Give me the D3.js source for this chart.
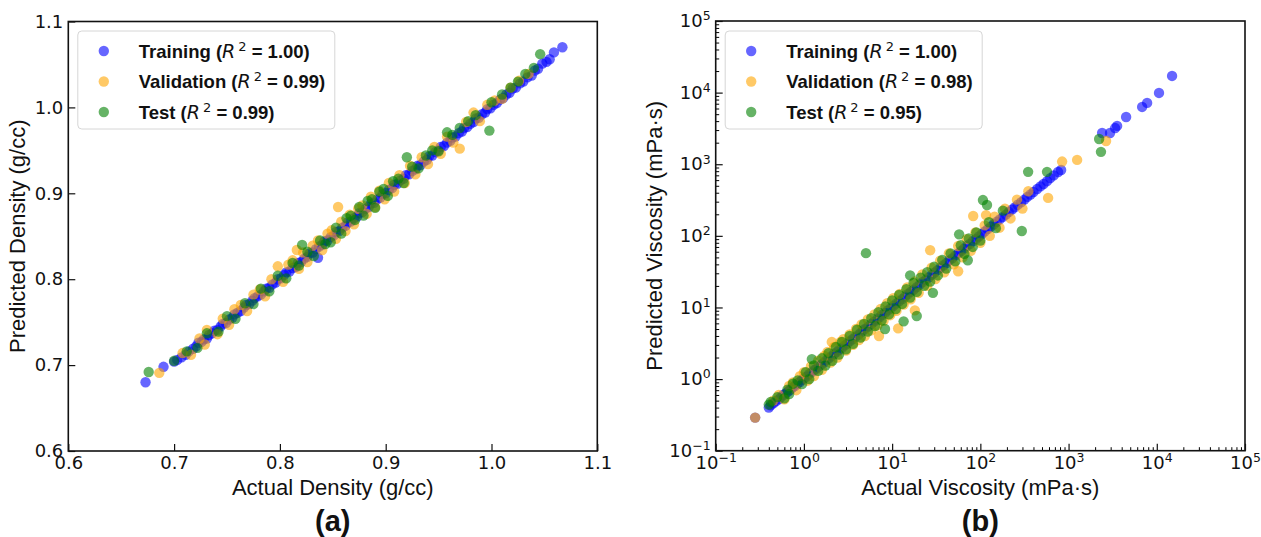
<!DOCTYPE html>
<html>
<head>
<meta charset="utf-8">
<script src="https://cdn.jsdelivr.net/npm/d3@7"></script>
<style>
  body { margin: 0; background: #fff; }
</style>
</head>
<body>
<div id="vis"></div>
<script>
// ---------------------------------- DATOS ----------------------------------
// [actual, predicho]
const trainDensity = [
  [0.673,0.680],[0.690,0.698],[0.700,0.704],[0.703,0.706],[0.707,0.709],[0.711,0.712],[0.714,0.716],[0.718,0.719],
  [0.721,0.722],[0.723,0.726],[0.726,0.727],[0.728,0.730],[0.731,0.731],[0.733,0.735],[0.736,0.737],[0.738,0.740],
  [0.741,0.741],[0.744,0.745],[0.746,0.748],[0.749,0.749],[0.752,0.753],[0.755,0.755],[0.757,0.759],[0.760,0.761],
  [0.763,0.763],[0.766,0.767],[0.768,0.770],[0.771,0.771],[0.774,0.775],[0.776,0.778],[0.779,0.780],[0.782,0.782],
  [0.785,0.786],[0.787,0.789],[0.790,0.790],[0.793,0.794],[0.796,0.796],[0.798,0.800],[0.801,0.801],[0.804,0.805],
  [0.806,0.808],[0.809,0.809],[0.812,0.813],[0.815,0.814],[0.817,0.819],[0.820,0.820],[0.823,0.824],[0.826,0.826],
  [0.828,0.830],[0.831,0.831],[0.834,0.835],[0.836,0.825],[0.837,0.838],[0.840,0.840],[0.842,0.844],[0.845,0.845],
  [0.848,0.849],[0.851,0.851],[0.853,0.855],[0.856,0.856],[0.859,0.860],[0.862,0.862],[0.864,0.866],[0.867,0.867],
  [0.870,0.871],[0.873,0.873],[0.875,0.877],[0.878,0.878],[0.881,0.882],[0.884,0.884],[0.886,0.888],[0.889,0.889],
  [0.892,0.893],[0.895,0.895],[0.897,0.899],[0.900,0.900],[0.903,0.904],[0.906,0.906],[0.908,0.910],[0.911,0.911],
  [0.914,0.915],[0.917,0.917],[0.919,0.921],[0.922,0.922],[0.925,0.926],[0.928,0.928],[0.930,0.932],[0.933,0.933],
  [0.936,0.937],[0.939,0.939],[0.941,0.943],[0.944,0.944],[0.947,0.948],[0.950,0.950],[0.952,0.954],[0.955,0.955],
  [0.958,0.959],[0.961,0.961],[0.963,0.965],[0.966,0.966],[0.969,0.970],[0.972,0.972],[0.974,0.976],[0.977,0.977],
  [0.980,0.981],[0.983,0.983],[0.985,0.987],[0.988,0.988],[0.991,0.992],[0.994,0.994],[0.996,0.998],[0.999,0.999],
  [1.002,1.003],[1.005,1.005],[1.008,1.009],[1.011,1.011],[1.014,1.015],[1.017,1.017],[1.020,1.022],[1.023,1.023],
  [1.027,1.028],[1.030,1.030],[1.034,1.035],[1.038,1.037],[1.041,1.043],[1.044,1.045],[1.048,1.051],[1.052,1.053],
  [1.055,1.056],[1.059,1.064],[1.067,1.070]
];
const valDensity = [
  [0.686,0.691],[0.708,0.714],[0.716,0.712],[0.724,0.731],[0.729,0.724],[0.731,0.741],[0.741,0.736],[0.746,0.754],
  [0.752,0.747],[0.757,0.765],[0.763,0.770],[0.769,0.763],[0.775,0.782],[0.781,0.788],[0.786,0.780],[0.792,0.800],
  [0.798,0.815],[0.803,0.797],[0.808,0.817],[0.812,0.822],[0.816,0.834],[0.818,0.812],[0.822,0.831],[0.826,0.820],
  [0.831,0.839],[0.836,0.845],[0.840,0.834],[0.845,0.853],[0.849,0.857],[0.853,0.847],[0.855,0.884],[0.858,0.867],
  [0.862,0.856],[0.866,0.875],[0.870,0.864],[0.874,0.882],[0.878,0.886],[0.882,0.876],[0.886,0.896],[0.890,0.884],
  [0.894,0.903],[0.899,0.893],[0.903,0.912],[0.908,0.902],[0.913,0.921],[0.918,0.912],[0.923,0.932],[0.928,0.922],
  [0.934,0.942],[0.940,0.934],[0.946,0.954],[0.952,0.946],[0.958,0.966],[0.964,0.959],[0.970,0.952],[0.976,0.983],
  [0.983,0.994],[0.989,0.984],[0.996,1.003],[1.003,1.008],[1.010,1.010],[1.018,1.023],[1.026,1.031],[1.035,1.039]
];
const testDensity = [
  [0.676,0.692],[0.700,0.705],[0.712,0.716],[0.722,0.720],[0.731,0.737],[0.742,0.739],[0.750,0.757],[0.758,0.754],
  [0.767,0.772],[0.775,0.771],[0.782,0.789],[0.790,0.786],[0.798,0.804],[0.806,0.801],[0.812,0.819],[0.818,0.816],
  [0.821,0.840],[0.826,0.832],[0.832,0.827],[0.838,0.845],[0.843,0.841],[0.848,0.843],[0.853,0.860],[0.858,0.853],
  [0.863,0.871],[0.867,0.874],[0.871,0.869],[0.875,0.884],[0.879,0.874],[0.883,0.891],[0.887,0.893],[0.890,0.883],
  [0.894,0.902],[0.898,0.905],[0.902,0.897],[0.907,0.914],[0.912,0.917],[0.917,0.912],[0.920,0.942],[0.925,0.931],
  [0.931,0.929],[0.938,0.944],[0.944,0.950],[0.950,0.949],[0.958,0.971],[0.963,0.968],[0.970,0.976],[0.978,0.984],
  [0.985,0.991],[0.998,0.973],[1.000,1.006],[1.010,1.015],[1.018,1.023],[1.025,1.030],[1.032,1.039],[1.040,1.046],
  [1.046,1.062]
];

const trainVisc = [
  [0.28,0.29],[0.40,0.40],[0.42,0.43],[0.45,0.46],[0.48,0.49],[0.52,0.52],[0.55,0.56],[0.58,0.60],[0.62,0.63],
  [0.66,0.67],[0.70,0.71],[0.74,0.76],[0.79,0.80],[0.84,0.86],[0.90,0.91],[0.95,0.98],[1.0,1.02],[1.07,1.08],
  [1.14,1.17],[1.22,1.24],[1.30,1.33],[1.38,1.40],[1.47,1.50],[1.57,1.60],[1.68,1.70],[1.80,1.84],[1.92,1.95],
  [2.05,2.08],[2.2,2.25],[2.35,2.38],[2.5,2.55],[2.7,2.73],[2.9,2.95],[3.1,3.13],[3.3,3.36],[3.55,3.6],[3.8,3.85],
  [4.1,4.1],[4.4,4.45],[4.7,4.8],[5.0,5.1],[5.4,5.45],[5.8,5.9],[6.2,6.3],[6.7,6.8],[7.2,7.3],[7.7,7.9],[8.3,8.4],
  [8.9,9.1],[9.6,9.7],[10.3,10.5],[11.1,11.3],[12,12.2],[13,13.1],[14,14.2],[15,15.3],[16.2,16.5],[17.5,17.7],
  [19,19.2],[20.5,20.8],[22,22.5],[24,24.3],[26,26.2],[28,28.5],[30,30.5],[32.5,33],[35,35.5],[38,38.5],[41,41.5],
  [44,45],[48,48.5],[52,53],[56,57],[60,61],[65,66],[70,72],[76,77],[82,84],[89,90],[96,98],[104,106],[112,115],
  [121,124],[131,134],[142,145],[153,157],[166,170],[180,184],[195,198],[210,215],[228,232],[245,250],[265,272],
  [290,295],[315,320],[340,350],[370,378],[400,410],[440,450],[480,490],[520,530],[570,580],[620,640],[680,700],
  [760,780],[823,830],[2400,2730],[2950,2730],[3370,3200],[3550,3430],[4490,4570],[6820,6310],[7770,7180],
  [10600,9900],[14900,17100]
];
const valVisc = [
  [0.28,0.29],[0.45,0.5],[0.52,0.6],[0.6,0.52],[0.68,0.8],[0.75,0.9],[0.82,0.7],[0.9,1.1],[1.0,1.25],[1.1,0.95],
  [1.2,1.5],[1.3,1.1],[1.45,1.8],[1.6,1.35],[1.7,2.1],[1.85,2.4],[2.0,1.7],[2.07,3.3],[2.2,2.8],[2.4,2.0],[2.6,3.3],
  [2.8,3.6],[3.0,2.5],[3.3,4.2],[3.6,3.0],[3.9,5.0],[4.2,3.5],[4.5,5.8],[4.9,4.0],[5.3,6.8],[5.8,4.8],[6.3,8.0],
  [6.8,5.6],[7.1,4.0],[7.4,9.5],[8.0,6.5],[8.8,11.5],[9.5,7.8],[10.3,13.5],[11.2,9.0],[11.7,5.1],[12.2,15.5],
  [13.5,11],[14.8,19],[16.2,13],[18.1,9.1],[18,23],[20,16],[22,29],[25,20],[27,63],[28,36],[31,25],[35,45],
  [39,31],[44,57],[50,40],[56,32],[56,72],[63,50],[70,90],[78,62],[83,189],[88,112],[100,80],[116,195],[112,140],
  [128,100],[145,185],[165,130],[190,240],[220,175],[260,320],[300,240],[350,420],[586,339],[845,1090],[1250,1150],
  [2660,2110]
];
const testVisc = [
  [0.4,0.44],[0.42,0.48],[0.5,0.56],[0.6,0.54],[0.65,0.71],[0.68,0.62],[0.75,0.86],[0.85,0.96],[0.95,0.85],
  [1.05,1.25],[1.23,1.9],[1.15,1.0],[1.3,1.55],[1.45,1.3],[1.6,1.95],[1.75,1.55],[1.9,2.3],[2.1,1.8],[2.3,2.8],
  [2.5,2.2],[2.7,3.3],[3.0,2.6],[3.3,4.0],[3.6,3.1],[4.0,4.9],[4.4,3.8],[4.8,5.9],[5.05,57.3],[5.3,4.6],[5.8,7.1],
  [6.4,5.5],[7.0,8.6],[7.6,6.6],[8.3,5.0],[8.4,10.3],[9.2,8.0],[10,12.5],[11,9.5],[12,15],[13.5,6.4],[13,11.2],
  [14.5,18],[16,28],[16,13.8],[17.5,22],[19,7.6],[19,16.5],[21,26],[23,20],[25,31],[27,23],[29,16],[30,37],
  [33,28],[37,46],[41,35],[46,57],[52,44],[57.5,105],[60,74],[66,56],[72,45.7],[74,92],[82,70],[90,112],[100,86],
  [107,316],[119,270],[125,155],[150,128],[180,225],[295,117],[348,783],[570,783],[2220,2250],[2330,1490]
];

const seriesNames = ["Training", "Validation", "Test"];
const seriesColors = ["blue", "orange", "green"];
const r2Density = ["1.00", "0.99", "0.99"];
const r2Visc = ["1.00", "0.98", "0.95"];
const densityTicks = [0.6, 0.7, 0.8, 0.9, 1.0, 1.1];
const viscTicks = [1e-1, 1e0, 1e1, 1e2, 1e3, 1e4, 1e5];

// ---------------------------------- SVG ----------------------------------
const WIDTH = 1261;
const HEIGHT = 537;
const SVG = d3.select("#vis").append("svg")
  .attr("width", WIDTH).attr("height", HEIGHT);

const FUENTE_TICKS = "DejaVu Sans";
const FUENTE = "Liberation Sans, Arial, sans-serif";

function dibujarPanel(cfg) {
  const g = SVG.append("g");
  const x = cfg.escalaX.range([cfg.x0, cfg.x1]);
  const y = cfg.escalaY.range([cfg.y0, cfg.y1]);

  // puntos
  [cfg.train, cfg.val, cfg.test].forEach((datos, i) => {
    g.append("g").selectAll("circle")
      .data(datos)
      .enter()
      .append("circle")
      .attr("cx", d => x(d[0]))
      .attr("cy", d => y(d[1]))
      .attr("r", 5.2)
      .style("fill", seriesColors[i])
      .style("fill-opacity", 0.6);
  });

  // ejes
  const ejeX = d3.axisBottom(x).tickValues(cfg.ticks).tickSizeInner(-7).tickSizeOuter(0).tickPadding(4);
  const ejeY = d3.axisLeft(y).tickValues(cfg.ticks).tickSizeInner(-7).tickSizeOuter(0).tickPadding(5);
  if (cfg.log) {
    ejeX.tickFormat(() => "");
    ejeY.tickFormat(() => "");
  } else {
    ejeX.tickFormat(d3.format(".1f"));
    ejeY.tickFormat(d3.format(".1f"));
  }

  const gx = g.append("g").attr("transform", `translate(0,${cfg.y0})`).call(ejeX);
  const gy = g.append("g").attr("transform", `translate(${cfg.x0},0)`).call(ejeY);

  if (cfg.log) {
    const menores = [];
    for (let e = -1; e < 5; e++) {
      for (let k = 2; k <= 9; k++) menores.push(k * Math.pow(10, e));
    }
    g.append("g").attr("transform", `translate(0,${cfg.y0})`)
      .call(d3.axisBottom(x).tickValues(menores).tickSizeInner(-3.5).tickSizeOuter(0).tickFormat(() => ""))
      .call(s => s.select(".domain").remove());
    g.append("g").attr("transform", `translate(${cfg.x0},0)`)
      .call(d3.axisLeft(y).tickValues(menores).tickSizeInner(-3.5).tickSizeOuter(0).tickFormat(() => ""))
      .call(s => s.select(".domain").remove());

    [gx, gy].forEach(eje => {
      eje.selectAll(".tick text").each(function (d) {
        const exp = String(Math.round(Math.log10(d))).replace("-", "\u2212");
        const t = d3.select(this);
        t.append("tspan").text("10");
        t.append("tspan").attr("dy", "-0.55em").attr("font-size", "12.5px").text(exp);
      });
    });
  }

  [gx, gy].forEach(eje => {
    eje.selectAll(".tick line").attr("stroke", "#111").attr("stroke-width", 1.2);
    eje.selectAll(".tick text")
      .attr("font-family", FUENTE_TICKS)
      .attr("font-size", "18px")
      .attr("fill", "#111");
  });
  gx.selectAll(".tick text").attr("dy", "0.8em");

  // marco
  g.append("rect")
    .attr("x", cfg.x0).attr("y", cfg.y1)
    .attr("width", cfg.x1 - cfg.x0).attr("height", cfg.y0 - cfg.y1)
    .attr("fill", "none").attr("stroke", "#111").attr("stroke-width", 1.6);
  g.selectAll(".domain").remove();

  // títulos de ejes
  const cx = (cfg.x0 + cfg.x1) / 2;
  g.append("text")
    .attr("x", cx).attr("y", 495)
    .attr("text-anchor", "middle")
    .attr("font-family", FUENTE).attr("font-size", "22px").attr("fill", "#111")
    .text(cfg.tituloX);
  g.append("text")
    .attr("transform", `translate(${cfg.xTituloY},${(cfg.y0 + cfg.y1) / 2}) rotate(-90)`)
    .attr("text-anchor", "middle")
    .attr("font-family", FUENTE).attr("font-size", "22px").attr("fill", "#111")
    .text(cfg.tituloY);
  g.append("text")
    .attr("x", cx).attr("y", 531)
    .attr("text-anchor", "middle")
    .attr("font-family", FUENTE).attr("font-size", "29px").attr("font-weight", "bold")
    .attr("fill", "#111")
    .text(cfg.etiqueta);

  // leyenda
  const ley = g.append("g").attr("transform", `translate(${cfg.x0 + 9.5},31)`);
  ley.append("rect")
    .attr("width", cfg.anchoLeyenda).attr("height", 98)
    .attr("rx", 4)
    .attr("fill", "white").attr("fill-opacity", 0.8)
    .attr("stroke", "#d6d6d6").attr("stroke-width", 1);
  seriesNames.forEach((nombre, i) => {
    const yy = 20 + i * 30.5;
    ley.append("circle")
      .attr("cx", 26).attr("cy", yy).attr("r", 5.2)
      .style("fill", seriesColors[i]).style("fill-opacity", 0.6);
    const t = ley.append("text")
      .attr("x", 61).attr("y", yy + 6.5)
      .attr("font-family", FUENTE).attr("font-size", "18.5px").attr("font-weight", "bold")
      .attr("fill", "#111");
    t.append("tspan").text(nombre + " (");
    t.append("tspan").attr("font-family", "DejaVu Sans").attr("font-style", "italic")
      .attr("font-weight", "normal").attr("font-size", "19px").text("R");
    t.append("tspan").attr("font-family", "DejaVu Sans").attr("font-weight", "normal")
      .attr("font-size", "13px").attr("dx", 3).attr("dy", -7).text("2");
    t.append("tspan").attr("dy", 7).text(" = " + cfg.r2[i] + ")");
  });
}

dibujarPanel({
  escalaX: d3.scaleLinear().domain([0.6, 1.1]),
  escalaY: d3.scaleLinear().domain([0.6, 1.1]),
  x0: 68.3, x1: 597.3, y0: 451, y1: 21.5,
  ticks: densityTicks, log: false,
  train: trainDensity, val: valDensity, test: testDensity,
  r2: r2Density,
  tituloX: "Actual Density (g/cc)",
  tituloY: "Predicted Density (g/cc)",
  xTituloY: 25,
  etiqueta: "(a)",
  anchoLeyenda: 257
});

dibujarPanel({
  escalaX: d3.scaleLog().domain([1e-1, 1e5]),
  escalaY: d3.scaleLog().domain([1e-1, 1e5]),
  x0: 715.7, x1: 1245, y0: 450.7, y1: 21,
  ticks: viscTicks, log: true,
  train: trainVisc, val: valVisc, test: testVisc,
  r2: r2Visc,
  tituloX: "Actual Viscosity (mPa\u00b7s)",
  tituloY: "Predicted Viscosity (mPa\u00b7s)",
  xTituloY: 662,
  etiqueta: "(b)",
  anchoLeyenda: 257
});
</script>
</body>
</html>
